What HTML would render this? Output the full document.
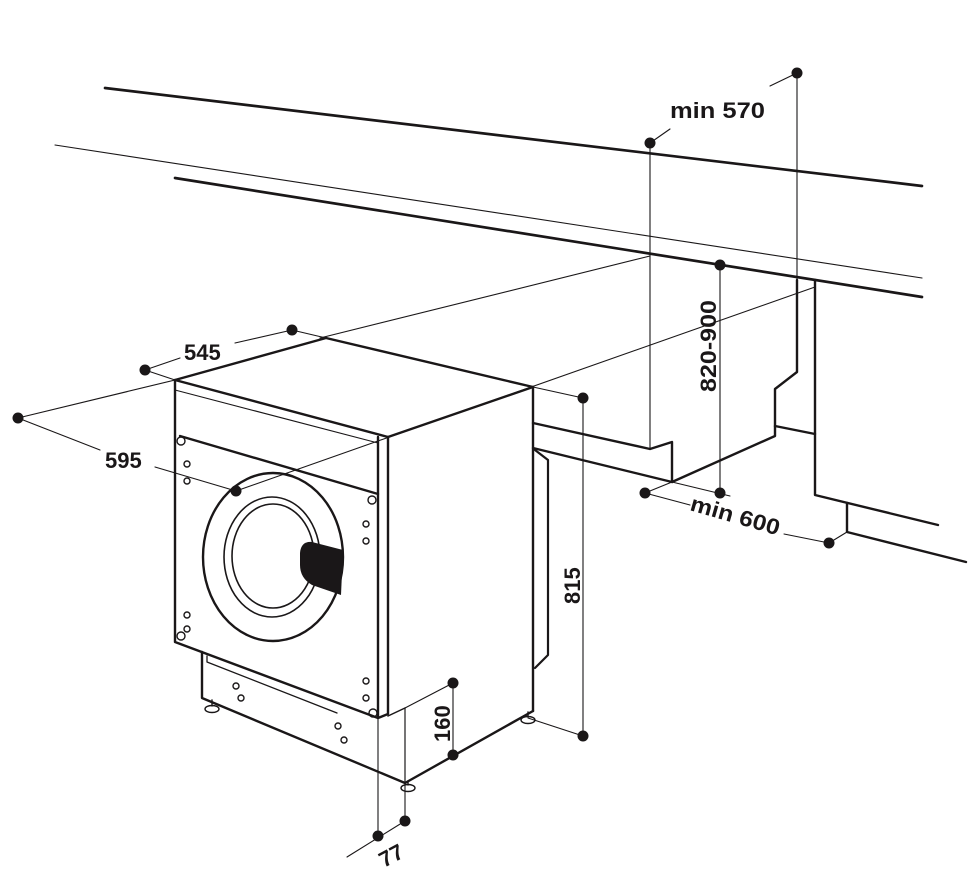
<!DOCTYPE html>
<html><head><meta charset="utf-8"><style>
html,body{margin:0;padding:0;background:#fff}
svg{display:block}
text{font-family:"Liberation Sans",sans-serif;font-weight:bold;fill:#1a1718}
</style></head><body>
<svg width="977" height="877" viewBox="0 0 977 877" xmlns="http://www.w3.org/2000/svg">
<g stroke="#1a1718" fill="none" stroke-linecap="round" stroke-linejoin="round">
<line x1="105" y1="88" x2="922" y2="186" stroke-width="2.7"/>
<line x1="55" y1="145" x2="922" y2="278" stroke-width="1.1"/>
<line x1="175" y1="178" x2="922" y2="297" stroke-width="2.7"/>
<polyline points="533,423 650,449 672,442 672,482 775,436 775,389 797,372 797,280" stroke-width="2.4"/>
<polyline points="533,448 672,482" stroke-width="2.4"/>
<line x1="775" y1="426" x2="815" y2="434" stroke-width="2.4"/>
<polyline points="815,280 815,495 938,525" stroke-width="2.4"/>
<polyline points="847,503 847,532 966,562" stroke-width="2.4"/>
<g stroke-width="1.1">
<line x1="650" y1="143" x2="650" y2="449"/>
<line x1="797" y1="73" x2="797" y2="280"/>
<line x1="650" y1="143" x2="670" y2="129"/>
<line x1="797" y1="73" x2="770" y2="86"/>
<line x1="720" y1="265" x2="720" y2="493"/>
<line x1="672" y1="482" x2="730" y2="496"/>
<line x1="645" y1="493" x2="672" y2="482"/>
<line x1="645" y1="493" x2="690" y2="505"/>
<line x1="784" y1="534" x2="829" y2="543"/>
<line x1="829" y1="543" x2="847" y2="532"/>
<line x1="320" y1="338" x2="650" y2="256"/>
<line x1="236" y1="491" x2="815" y2="287"/>
<line x1="533" y1="387" x2="583" y2="398"/>
<line x1="583" y1="398" x2="583" y2="736"/>
<line x1="528" y1="718" x2="583" y2="736"/>
<line x1="145" y1="370" x2="175" y2="380"/>
<line x1="292" y1="330" x2="326" y2="338"/>
<line x1="145" y1="370" x2="180" y2="358"/>
<line x1="235" y1="343" x2="292" y2="330"/>
<line x1="18" y1="418" x2="175" y2="380"/>
<line x1="18" y1="418" x2="100" y2="450"/>
<line x1="155" y1="467" x2="236" y2="491"/>
<line x1="405" y1="708" x2="453" y2="683"/>
<line x1="453" y1="683" x2="453" y2="755"/>
<line x1="378" y1="718" x2="378" y2="836"/>
<line x1="405" y1="708" x2="405" y2="821"/>
<line x1="347" y1="857" x2="405" y2="821"/>
</g>
<polygon points="175,380 326,338 533,387 388,437" stroke-width="2.4"/>
<line x1="175" y1="390" x2="378" y2="443" stroke-width="1.1"/>
<polyline points="175,380 175,642 378,718 378,437" stroke-width="2.4"/>
<polyline points="378,718 388,714 388,437" stroke-width="2.4"/>
<line x1="533" y1="387" x2="533" y2="711" stroke-width="2.4"/>
<line x1="180" y1="436" x2="378" y2="494" stroke-width="2.4"/>
<polyline points="535,450 548,460 548,655 535,668" stroke-width="2.2"/>
<polyline points="202,652 202,698 405,783 533,711" stroke-width="2.4"/>
<line x1="405" y1="708" x2="405" y2="783" stroke-width="1.1"/>
<line x1="388" y1="716" x2="405" y2="708" stroke-width="1.5"/>
<polyline points="207,656 207,662 337,713" stroke-width="1.3"/>
<ellipse cx="273" cy="557" rx="70" ry="84" stroke-width="2.4"/>
<ellipse cx="272" cy="557" rx="48" ry="60" stroke-width="1.6"/>
<ellipse cx="273" cy="556" rx="41" ry="52" stroke-width="1.6"/>
<g stroke-width="1.4">
<circle cx="181" cy="441" r="4"/><circle cx="187" cy="464" r="3"/><circle cx="187" cy="481" r="3"/>
<circle cx="372" cy="500" r="4"/><circle cx="366" cy="524" r="3"/><circle cx="366" cy="541" r="3"/>
<circle cx="187" cy="615" r="3"/><circle cx="187" cy="629" r="3"/><circle cx="181" cy="636" r="4"/>
<circle cx="366" cy="681" r="3"/><circle cx="366" cy="698" r="3"/><circle cx="373" cy="713" r="4"/>
<circle cx="236" cy="686" r="3"/><circle cx="241" cy="698" r="3"/><circle cx="338" cy="726" r="3"/><circle cx="344" cy="740" r="3"/>
</g>
<g stroke-width="1.4">
<ellipse cx="212" cy="709" rx="7" ry="3.5"/><line x1="212" y1="700" x2="212" y2="706"/>
<ellipse cx="408" cy="788" rx="7" ry="3.5"/><line x1="408" y1="781" x2="408" y2="785"/>
<ellipse cx="528" cy="720" rx="7" ry="3.5"/><line x1="528" y1="712" x2="528" y2="717"/>
</g>
</g>
<path d="M312,542 L343,550 L341,595 L312,585 Q300,578 300,565 L300,553 Q301,541 312,542 Z" fill="#1a1718"/>
<g fill="#1a1718">
<circle cx="650" cy="143" r="5.5"/><circle cx="797" cy="73" r="5.5"/>
<circle cx="720" cy="265" r="5.5"/><circle cx="720" cy="493" r="5.5"/>
<circle cx="645" cy="493" r="5.5"/><circle cx="829" cy="543" r="5.5"/>
<circle cx="145" cy="370" r="5.5"/><circle cx="292" cy="330" r="5.5"/>
<circle cx="18" cy="418" r="5.5"/><circle cx="236" cy="491" r="5.5"/>
<circle cx="583" cy="398" r="5.5"/><circle cx="583" cy="736" r="5.5"/>
<circle cx="453" cy="683" r="5.5"/><circle cx="453" cy="755" r="5.5"/>
<circle cx="378" cy="836" r="5.5"/><circle cx="405" cy="821" r="5.5"/>
</g>
<text x="670" y="118" font-size="22" textLength="95" lengthAdjust="spacingAndGlyphs">min 570</text>
<text x="184" y="360" font-size="22">545</text>
<text x="105" y="468" font-size="22">595</text>
<text font-size="22" transform="translate(716,392) rotate(-90)" textLength="92" lengthAdjust="spacingAndGlyphs">820-900</text>
<text font-size="22" transform="translate(689,510) rotate(16)" textLength="92" lengthAdjust="spacingAndGlyphs">min 600</text>
<text font-size="22" transform="translate(580,604) rotate(-90)">815</text>
<text font-size="22" transform="translate(450,742) rotate(-90)">160</text>
<text font-size="22" transform="translate(384,868) rotate(-28)">77</text>
</svg>
</body></html>
